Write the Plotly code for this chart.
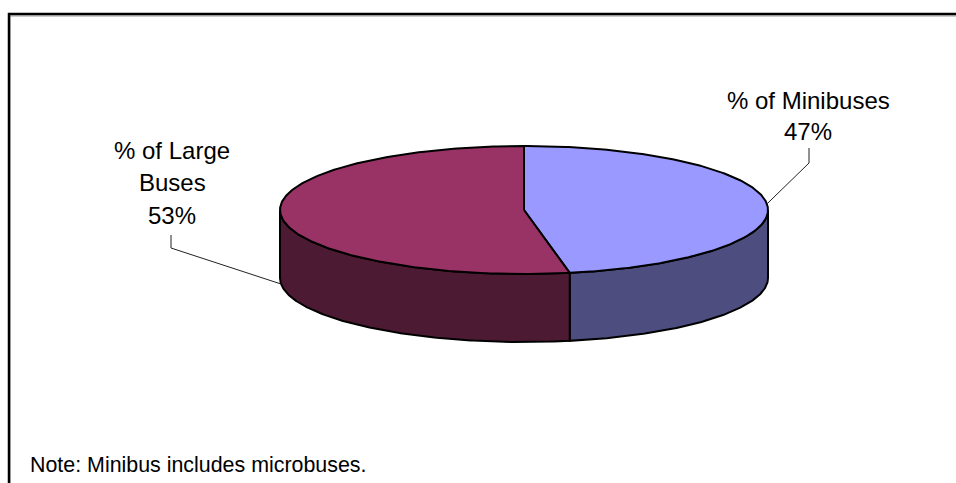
import numpy as np
import plotly.graph_objects as go

# Chart data
categories = ["% of Minibuses", "% of Large Buses"]
category_lines = [["% of Minibuses"], ["% of Large", "Buses"]]
values = [47, 53]
note_text = "Note: Minibus includes microbuses."

top_colors = ["#9999FF", "#993366"]
side_colors = ["#4D4D80", "#4C1A33"]

W, H = 956, 483
# Pie geometry in pixel space (ellipse centre, radii, wall depth)
CX, CY, RX, RY, DEPTH = 524, 210, 244, 64, 68
FONT = "Liberation Sans, Arial, sans-serif"


def ellipse_pt(theta_deg, dz=0.0):
    """Point on the pie rim; angle measured clockwise from 12 o'clock."""
    t = np.radians(theta_deg)
    return CX + RX * np.sin(t), CY - RY * np.cos(t) + dz


total = float(sum(values))
bounds = np.concatenate([[0.0], np.cumsum(values) / total * 360.0])

fig = go.Figure()

# Side walls (only the front half of the rim, 90..270 degrees, is visible)
for i in range(len(values)):
    a0, a1 = bounds[i], bounds[i + 1]
    lo, hi = max(a0, 90.0), min(a1, 270.0)
    if hi <= lo:
        continue
    th = np.linspace(lo, hi, 160)
    xt, yt = ellipse_pt(th)
    xb, yb = ellipse_pt(th[::-1], DEPTH)
    xs = np.concatenate([xt, xb, xt[:1]])
    ys = np.concatenate([yt, yb, yt[:1]])
    fig.add_trace(go.Scatter(
        x=xs, y=ys, mode="lines", fill="toself",
        fillcolor=side_colors[i],
        line=dict(color="black", width=2),
        hoverinfo="skip", showlegend=False,
    ))

# Top faces
for i in range(len(values)):
    a0, a1 = bounds[i], bounds[i + 1]
    th = np.linspace(a0, a1, 240)
    x, y = ellipse_pt(th)
    xs = np.concatenate([[CX], x, [CX]])
    ys = np.concatenate([[CY], y, [CY]])
    fig.add_trace(go.Scatter(
        x=xs, y=ys, mode="lines", fill="toself",
        fillcolor=top_colors[i],
        line=dict(color="black", width=2),
        hoverinfo="skip", showlegend=False,
    ))

# Data labels with leader lines
label_specs = [
    # text centre x, first line y, line step, elbow (x, top y, bottom y), anchor depth
    dict(x=808, y0=100, step=31, elbow=(809, 148, 163), dz=0.0),
    dict(x=172, y0=150, step=32.5, elbow=(171, 235, 248), dz=DEPTH),
]
annotations = []
for i, spec in enumerate(label_specs):
    lines = category_lines[i] + [f"{values[i]}%"]
    for k, line in enumerate(lines):
        annotations.append(dict(
            x=spec["x"], y=spec["y0"] + k * spec["step"],
            xref="x", yref="y", text=line, showarrow=False,
            xanchor="center", yanchor="middle",
            font=dict(family=FONT, size=24, color="black"),
        ))
    mid = (bounds[i] + bounds[i + 1]) / 2.0
    ax, ay = ellipse_pt(mid, spec["dz"])
    ex, ey0, ey1 = spec["elbow"]
    fig.add_trace(go.Scatter(
        x=[ex, ex, ax], y=[ey0, ey1, ay], mode="lines",
        line=dict(color="#222222", width=1),
        hoverinfo="skip", showlegend=False,
    ))

annotations.append(dict(
    x=28, y=465, xref="x", yref="y", text=note_text, showarrow=False,
    xanchor="left", yanchor="middle",
    font=dict(family=FONT, size=21.4, color="black"),
))

# Chart-area frame
shapes = [
    dict(type="line", xref="x", yref="y", x0=10, y0=16, x1=10, y1=500,
         line=dict(color="#9a9a9a", width=1)),
    dict(type="line", xref="x", yref="y", x0=10, y0=16, x1=970, y1=16,
         line=dict(color="#9a9a9a", width=1)),
    dict(type="path", xref="x", yref="y",
         path="M 9 500 L 9 14 L 970 14",
         line=dict(color="black", width=2.5)),
]

fig.update_layout(
    width=W, height=H,
    margin=dict(l=0, r=0, t=0, b=0),
    paper_bgcolor="white", plot_bgcolor="white",
    xaxis=dict(range=[0, W], visible=False, fixedrange=True),
    yaxis=dict(range=[H, 0], visible=False, fixedrange=True),
    annotations=annotations,
    shapes=shapes,
    showlegend=False,
)

fig.write_html("out.html")
